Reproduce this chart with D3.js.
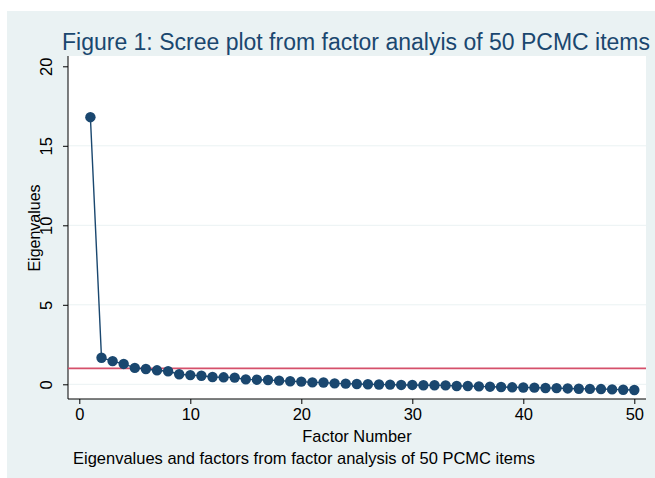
<!DOCTYPE html>
<html>
<head>
<meta charset="utf-8">
<script src="https://cdn.jsdelivr.net/npm/d3@7"></script>
<style>
  body { margin: 0; background: #fff; }
  text { font-family: "Liberation Sans", Arial, sans-serif; }
</style>
</head>
<body>
<svg id="chart"></svg>
<script>
const width = 655;
const height = 478;

// data
const factors = d3.range(1, 51);
const eigenvalues = [
  16.8, 1.67, 1.46, 1.28, 1.03, 0.96, 0.88, 0.82, 0.63, 0.58,
  0.54, 0.46, 0.44, 0.42, 0.31, 0.29, 0.27, 0.23, 0.19, 0.17,
  0.12, 0.11, 0.06, 0.04, 0.02, 0.0, -0.01, -0.02, -0.04, -0.04,
  -0.06, -0.06, -0.07, -0.11, -0.11, -0.13, -0.15, -0.17, -0.19, -0.20,
  -0.21, -0.23, -0.24, -0.26, -0.28, -0.29, -0.30, -0.32, -0.34, -0.36
];
const xTicks = [0, 10, 20, 30, 40, 50];
const yTicks = [0, 5, 10, 15, 20];
const refLine = 1;

const navy = "#1a476f";

const svg = d3.select("#chart")
  .attr("width", width)
  .attr("height", height);

// graph region
svg.append("rect")
  .attr("x", 7).attr("y", 11)
  .attr("width", width - 7).attr("height", height - 11)
  .attr("fill", "#eaf2f3");

const plot = { left: 68, right: 646, top: 56, bottom: 399 };

svg.append("rect")
  .attr("x", plot.left).attr("y", plot.top)
  .attr("width", plot.right - plot.left)
  .attr("height", plot.bottom - plot.top)
  .attr("fill", "#fff");

const x = d3.scaleLinear().domain([0, 50]).range([79.3, 634.3]);
const y = d3.scaleLinear().domain([0, 20]).range([384.3, 66.3]);

// gridlines
svg.append("g")
  .selectAll("line")
  .data(yTicks.filter(d => d < 20))
  .enter().append("line")
  .attr("x1", plot.left).attr("x2", plot.right)
  .attr("y1", d => y(d)).attr("y2", d => y(d))
  .attr("stroke", "#eaf2f3")
  .attr("stroke-width", 1);

// y axis
const yAxis = svg.append("g")
  .attr("transform", `translate(${plot.left},0)`)
  .call(d3.axisLeft(y).tickValues(yTicks).tickSize(5).tickSizeOuter(0));
yAxis.select(".domain").remove();
yAxis.append("line")
  .attr("x1", 0).attr("x2", 0)
  .attr("y1", plot.top).attr("y2", plot.bottom)
  .attr("stroke", "#000");
yAxis.selectAll(".tick line").attr("stroke", "#000");
yAxis.selectAll(".tick text")
  .attr("x", null).attr("dy", null)
  .attr("transform", "translate(-16,0) rotate(-90)")
  .attr("text-anchor", "middle")
  .attr("font-size", 16.5)
  .attr("fill", "#000");

// x axis
const xAxis = svg.append("g")
  .attr("transform", `translate(0,${plot.bottom})`)
  .call(d3.axisBottom(x).tickValues(xTicks).tickSize(5).tickSizeOuter(0));
xAxis.select(".domain").remove();
xAxis.append("line")
  .attr("x1", plot.left).attr("x2", plot.right)
  .attr("y1", 0).attr("y2", 0)
  .attr("stroke", "#000");
xAxis.selectAll(".tick line").attr("stroke", "#000");
xAxis.selectAll(".tick text")
  .attr("y", 9)
  .attr("font-size", 16.5)
  .attr("fill", "#000");

// reference line at eigenvalue 1
svg.append("line")
  .attr("x1", plot.left).attr("x2", plot.right)
  .attr("y1", y(refLine)).attr("y2", y(refLine))
  .attr("stroke", "#d5506b")
  .attr("stroke-width", 1.8);

// scree line + markers
const pts = factors.map((f, i) => ({ f, v: eigenvalues[i] }));

svg.append("path")
  .datum(pts)
  .attr("fill", "none")
  .attr("stroke", navy)
  .attr("stroke-width", 1.4)
  .attr("d", d3.line().x(d => x(d.f)).y(d => y(d.v)));

svg.append("g")
  .selectAll("circle")
  .data(pts)
  .enter().append("circle")
  .attr("cx", d => x(d.f))
  .attr("cy", d => y(d.v))
  .attr("r", 5.2)
  .attr("fill", navy);

// titles
svg.append("text")
  .attr("x", 62).attr("y", 50)
  .attr("font-size", 23)
  .attr("fill", navy)
  .attr("textLength", 588)
  .attr("lengthAdjust", "spacingAndGlyphs")
  .text("Figure 1: Scree plot from factor analyis of 50 PCMC items");

svg.append("text")
  .attr("transform", "translate(40,228) rotate(-90)")
  .attr("text-anchor", "middle")
  .attr("font-size", 16)
  .attr("fill", "#000")
  .text("Eigenvalues");

svg.append("text")
  .attr("x", (plot.left + plot.right) / 2).attr("y", 442)
  .attr("text-anchor", "middle")
  .attr("font-size", 16.4)
  .attr("fill", "#000")
  .text("Factor Number");

svg.append("text")
  .attr("x", 73).attr("y", 464)
  .attr("font-size", 16.4)
  .attr("fill", "#000")
  .attr("textLength", 462)
  .attr("lengthAdjust", "spacingAndGlyphs")
  .text("Eigenvalues and factors from factor analysis of 50 PCMC items");
</script>
</body>
</html>
